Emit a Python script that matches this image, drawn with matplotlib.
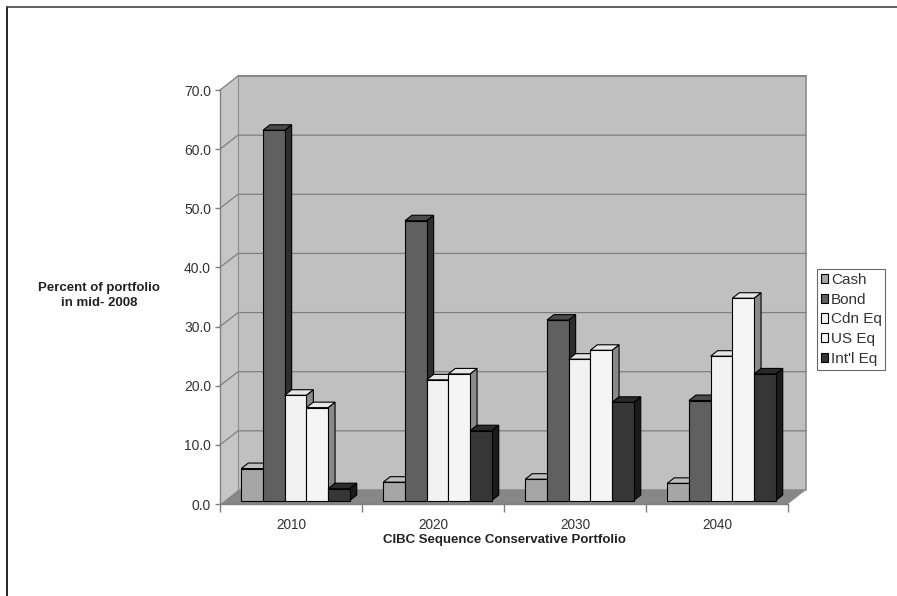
import matplotlib
matplotlib.use("Agg")
import matplotlib.pyplot as plt
from matplotlib.patches import Polygon, Patch
from matplotlib.lines import Line2D

plt.rcParams["font.family"] = ["Liberation Sans", "DejaVu Sans"]

years = ["2010", "2020", "2030", "2040"]
assets = ["Cash", "Bond", "Cdn Eq", "US Eq", "Int'l Eq"]
cash = [5.4, 3.1, 3.6, 2.9]
bond = [62.6, 47.3, 30.5, 16.9]
cdn_eq = [17.8, 20.4, 23.9, 24.4]
us_eq = [15.7, 21.4, 25.4, 34.2]
intl_eq = [2.0, 11.8, 16.6, 21.4]
series = [cash, bond, cdn_eq, us_eq, intl_eq]

# front / top / side shades for each series
shades = [
    ("#a6a6a6", "#bdbdbd", "#7a7a7a"),
    ("#606060", "#4a4a4a", "#2e2e2e"),
    ("#f2f2f2", "#e6e6e6", "#8a8a8a"),
    ("#f5f5f5", "#e8e8e8", "#8a8a8a"),
    ("#363636", "#2a2a2a", "#1a1a1a"),
]

W, H = 897, 596
fig = plt.figure(figsize=(W / 100, H / 100), dpi=100)
ax = fig.add_axes([220 / W, 1 - 504 / H, 568 / W, 414 / H])
ax.set_xlim(0, 4)
ax.set_ylim(0, 70)
ax.patch.set_visible(False)

# pixel -> data unit conversions for the fake depth
px_x = 4 / 568
px_y = 70 / 414
DX, DY = 18 * px_x, 14 * px_y        # wall depth
SX, SY = 4.5 * px_x, 3.5 * px_y      # bar front offset from the floor edge
BX, BY = 7 * px_x, 5.5 * px_y        # bar depth
bw = 21.7 * px_x

def poly(pts, fc, ec="none", lw=0.8, z=1):
    ax.add_patch(Polygon(pts, closed=True, facecolor=fc, edgecolor=ec,
                         linewidth=lw, zorder=z, clip_on=False))

# walls and floor
poly([(DX, DY), (4 + DX, DY), (4 + DX, 70 + DY), (DX, 70 + DY)], "#c0c0c0",
     ec="#8c8c8c", lw=1.2, z=0.5)
poly([(0, 0), (DX, DY), (DX, 70 + DY), (0, 70)], "#c6c6c6", z=0.5)
for v in range(10, 71, 10):
    ax.plot([0, DX, 4 + DX], [v, v + DY, v + DY], color="#7f7f7f", lw=0.9,
            zorder=0.6, clip_on=False)
ax.plot([DX, DX], [DY, 70 + DY], color="#8c8c8c", lw=0.8, zorder=0.6, clip_on=False)
poly([(0, 0), (4, 0), (4 + DX, DY), (DX, DY)], "#878787", z=0.7)

# bars, left to right so each front face hides the previous side face
for i in range(len(years)):
    x0 = i + 0.5 - 2.5 * bw + SX
    for k, vals in enumerate(series):
        front, top, side = shades[k]
        l = x0 + k * bw
        r = l + bw
        b = SY
        t = SY + vals[i]
        poly([(r, b), (r + BX, b + BY), (r + BX, t + BY), (r, t)], side, ec="black", z=2)
        poly([(l, t), (r, t), (r + BX, t + BY), (l + BX, t + BY)], top, ec="black", z=2)
        poly([(l, b), (r, b), (r, t), (l, t)], front, ec="black", z=2)

# axes styling
for s in ["top", "right"]:
    ax.spines[s].set_visible(False)
for s in ["left", "bottom"]:
    ax.spines[s].set_color("#808080")
    ax.spines[s].set_linewidth(1.0)
ax.set_yticks(range(0, 71, 10))
ax.set_yticklabels([f"{v:.1f}" for v in range(0, 71, 10)])
ax.tick_params(axis="y", direction="out", length=3.6, width=1.0, color="#808080",
               pad=2.9, labelsize=10, labelcolor="#333333")
ax.set_xticks(range(5))
ax.set_xticklabels([])
ax.set_xticks([i + 0.5 for i in range(4)], minor=True)
ax.set_xticklabels(years, minor=True)
ax.tick_params(axis="x", which="major", direction="out", length=6, width=1.0, color="#808080")
ax.tick_params(axis="x", which="minor", length=0, pad=10, labelsize=9.8, labelcolor="#333333")

fig.text(504 / W, 1 - 540 / H, "CIBC Sequence Conservative Portfolio", ha="center",
         va="center", fontsize=9.5, fontweight="bold", color="#222222")
fig.text(99 / W, 1 - 295.5 / H, "Percent of portfolio\nin mid- 2008", ha="center",
         va="center", fontsize=9.5, fontweight="bold", color="#222222", linespacing=1.35)

handles = [Patch(facecolor=shades[k][0], edgecolor="black", linewidth=0.8) for k in range(5)]
leg = ax.legend(handles, assets, loc="upper left", bbox_to_anchor=(817 / W, 1 - 269 / H),
                bbox_transform=fig.transFigure, fontsize=11, frameon=True, fancybox=False,
                handlelength=0.5, handleheight=0.55, handletextpad=0.15, labelspacing=0.38,
                borderpad=0.25, borderaxespad=0)
leg.get_frame().set_edgecolor("#444444")
leg.get_frame().set_linewidth(0.8)
for t in leg.get_texts():
    t.set_color("#333333")

# outer frame (left and top edges)
fig.add_artist(Line2D([7 / W, 7 / W], [0, 1 - 7 / H], color="black", lw=1.2))
fig.add_artist(Line2D([7 / W, 1], [1 - 7 / H, 1 - 7 / H], color="#444444", lw=1.2))

fig.savefig("out.png", dpi=100)
